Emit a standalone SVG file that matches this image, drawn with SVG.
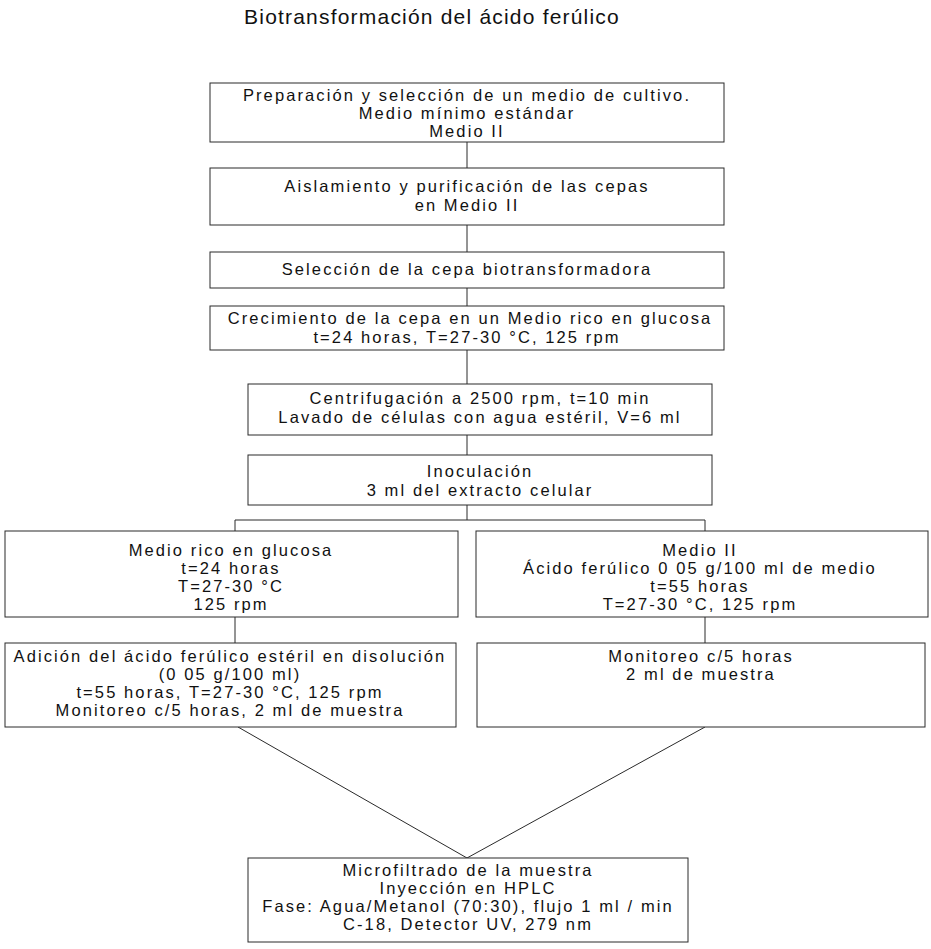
<svg xmlns="http://www.w3.org/2000/svg" width="931" height="949" viewBox="0 0 931 949">
<style>
  .bg { fill: #ffffff; }
  .box { fill: #ffffff; stroke: #2a2a2a; stroke-width: 1; }
  .ln { fill: none; stroke: #2a2a2a; stroke-width: 1; }
  .t { font-family: "Liberation Sans", Arial, sans-serif; font-size: 16.5px; letter-spacing: 2.1px; fill: #111; text-anchor: middle; }
  .title { font-family: "Liberation Sans", Arial, sans-serif; font-size: 21px; letter-spacing: 1.2px; fill: #111; text-anchor: middle; }
</style>
<rect class="bg" x="0" y="0" width="931" height="949"/>
<text class="title" x="432" y="24">Biotransformación del ácido ferúlico</text>

<g id="connectors">
  <line class="ln" x1="467" y1="142" x2="467" y2="168"/>
  <line class="ln" x1="467" y1="225" x2="467" y2="252"/>
  <line class="ln" x1="467" y1="288" x2="467" y2="306"/>
  <line class="ln" x1="467" y1="350" x2="467" y2="384"/>
  <line class="ln" x1="467" y1="435" x2="467" y2="455"/>
  <line class="ln" x1="467" y1="505" x2="467" y2="520"/>
  <line class="ln" x1="235" y1="520" x2="705" y2="520"/>
  <line class="ln" x1="235" y1="520" x2="235" y2="531"/>
  <line class="ln" x1="705" y1="520" x2="705" y2="531"/>
  <line class="ln" x1="235" y1="617" x2="235" y2="643"/>
  <line class="ln" x1="705" y1="617" x2="705" y2="643"/>
  <line class="ln" x1="238" y1="727" x2="467" y2="858"/>
  <line class="ln" x1="705" y1="727" x2="467" y2="858"/>
</g>

<g id="n1">
  <rect class="box" x="210" y="83" width="514" height="59"/>
  <text class="t" x="467" y="101">Preparación y selección de un medio de cultivo.</text>
  <text class="t" x="467" y="119">Medio mínimo estándar</text>
  <text class="t" x="467" y="137">Medio II</text>
</g>
<g id="n2">
  <rect class="box" x="210" y="168" width="514" height="57"/>
  <text class="t" x="467" y="192">Aislamiento y purificación de las cepas</text>
  <text class="t" x="467" y="211">en Medio II</text>
</g>
<g id="n3">
  <rect class="box" x="210" y="252" width="514" height="36"/>
  <text class="t" x="467" y="275">Selección de la cepa biotransformadora</text>
</g>
<g id="n4">
  <rect class="box" x="210" y="306" width="514" height="44"/>
  <text class="t" x="470" y="324">Crecimiento de la cepa en un Medio rico en glucosa</text>
  <text class="t" x="467" y="343">t=24 horas, T=27-30 °C, 125 rpm</text>
</g>
<g id="n5">
  <rect class="box" x="248" y="384" width="464" height="51"/>
  <text class="t" x="480" y="404">Centrifugación a 2500 rpm, t=10 min</text>
  <text class="t" x="480" y="423">Lavado de células con agua estéril, V=6 ml</text>
</g>
<g id="n6">
  <rect class="box" x="248" y="455" width="464" height="50"/>
  <text class="t" x="480" y="477">Inoculación</text>
  <text class="t" x="480" y="496">3 ml del extracto celular</text>
</g>
<g id="n7">
  <rect class="box" x="5" y="531" width="453" height="86"/>
  <text class="t" x="231" y="556">Medio rico en glucosa</text>
  <text class="t" x="231" y="574">t=24 horas</text>
  <text class="t" x="231" y="592">T=27-30 °C</text>
  <text class="t" x="231" y="610">125 rpm</text>
</g>
<g id="n8">
  <rect class="box" x="476" y="531" width="452" height="86"/>
  <text class="t" x="700" y="556">Medio II</text>
  <text class="t" x="700" y="574">Ácido ferúlico  0 05 g/100 ml de medio</text>
  <text class="t" x="700" y="592">t=55 horas</text>
  <text class="t" x="700" y="610">T=27-30 °C, 125 rpm</text>
</g>
<g id="n9">
  <rect class="box" x="5" y="643" width="451" height="84"/>
  <text class="t" x="230" y="662">Adición del ácido ferúlico estéril en disolución</text>
  <text class="t" x="230" y="680">(0 05 g/100 ml)</text>
  <text class="t" x="230" y="698">t=55 horas, T=27-30 °C, 125 rpm</text>
  <text class="t" x="230" y="716">Monitoreo c/5 horas, 2 ml de muestra</text>
</g>
<g id="n10">
  <rect class="box" x="477" y="643" width="448" height="84"/>
  <text class="t" x="701" y="662">Monitoreo c/5 horas</text>
  <text class="t" x="701" y="680">2 ml de muestra</text>
</g>
<g id="n11">
  <rect class="box" x="248" y="858" width="440" height="84"/>
  <text class="t" x="468" y="876">Microfiltrado de la muestra</text>
  <text class="t" x="468" y="894">Inyección en HPLC</text>
  <text class="t" x="468" y="912">Fase: Agua/Metanol (70:30), flujo 1 ml / min</text>
  <text class="t" x="468" y="930">C-18, Detector UV, 279 nm</text>
</g>
</svg>
